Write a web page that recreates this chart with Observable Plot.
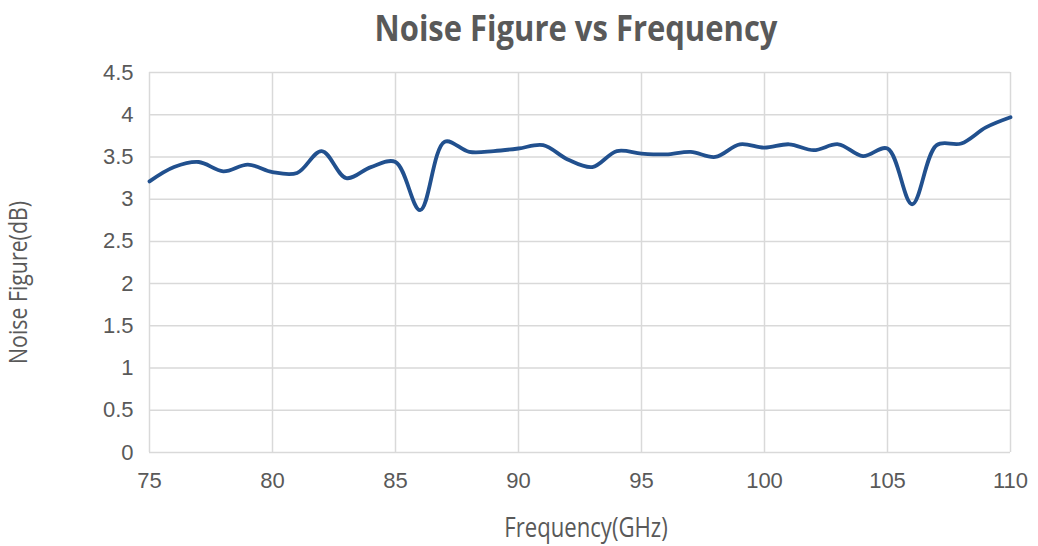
<!DOCTYPE html>
<html><head><meta charset="utf-8">
<script src="https://cdn.jsdelivr.net/npm/d3@7"></script>
<script src="https://cdn.jsdelivr.net/npm/@observablehq/plot@0.6"></script>
<style>
body{margin:0;background:#fff;}
#title{height:50px;width:1038px;position:relative;}
#title span{position:absolute;left:576px;top:4px;line-height:1;transform:translateX(-50%) scaleX(0.885);font:bold 35px "Open Sans",sans-serif;color:#595959;white-space:nowrap;}
</style></head>
<body>
<div id="title"><span>Noise Figure vs Frequency</span></div>
<div id="chart"></div>
<script>
const freq = [75,76,77,78,79,80,81,82,83,84,85,86,87,88,89,90,91,92,93,94,95,96,97,98,99,100,101,102,103,104,105,106,107,108,109,110];
const nf = [3.21,3.38,3.44,3.33,3.41,3.32,3.31,3.57,3.25,3.38,3.44,2.87,3.68,3.56,3.57,3.60,3.64,3.47,3.38,3.57,3.54,3.53,3.56,3.50,3.65,3.61,3.65,3.58,3.65,3.51,3.60,2.94,3.64,3.66,3.85,3.97];
const xTicks = [75,80,85,90,95,100,105,110];
const yTicks = [0,0.5,1,1.5,2,2.5,3,3.5,4,4.5];
const xTitle = "Frequency(GHz)";
const yTitle = "Noise Figure(dB)";
const data = freq.map((f,i)=>({f, v: nf[i]}));
const grid = "#d9d9d9";
const chart = Plot.plot({
  width: 1038, height: 496,
  marginLeft: 149, marginRight: 28, marginTop: 22, marginBottom: 94,
  style: {fontFamily: "'Liberation Sans', Arial, sans-serif", fontSize: "22px", color: "#595959", background: "#fff"},
  x: {domain: [75,110], label: null},
  y: {domain: [0,4.5], label: null},
  marks: [
    Plot.gridX(xTicks, {stroke: grid, strokeOpacity: 1, strokeWidth: 1.5}),
    Plot.gridY(yTicks, {stroke: grid, strokeOpacity: 1, strokeWidth: 1.5}),
    Plot.axisX({ticks: xTicks, tickSize: 0, tickPadding: 20, label: null, fontSize: 22}),
    Plot.axisY({ticks: yTicks, tickSize: 0, tickPadding: 16, label: null, fontSize: 22, tickFormat: d => String(d)}),
    Plot.line(data, {x: "f", y: "v", curve: "catmull-rom", stroke: "#21508e", strokeWidth: 3.8}),
    Plot.text([xTitle], {frameAnchor: "bottom", lineAnchor: "middle", textAnchor: "middle", dx: 6, dy: 76, text: d => d, fontFamily: "'Open Sans', sans-serif", fontSize: 27, fill: "#595959", className: "squeeze"}),
    Plot.text([yTitle], {frameAnchor: "left", lineAnchor: "middle", textAnchor: "middle", dx: -131, dy: 20, rotate: -90, text: d => d, fontFamily: "'Open Sans', sans-serif", fontSize: 26, fill: "#595959", className: "squeeze"})
  ]
});
document.getElementById("chart").appendChild(chart);
d3.select(chart).selectAll(".squeeze text").each(function() {
  const b = this.getBBox();
  const cx = b.x + b.width / 2, cy = b.y + b.height / 2;
  const t = this.getAttribute("transform") || "";
  this.setAttribute("transform", `${t} translate(${cx},${cy}) scale(0.82,1) translate(${-cx},${-cy})`);
});
</script>
</body></html>
